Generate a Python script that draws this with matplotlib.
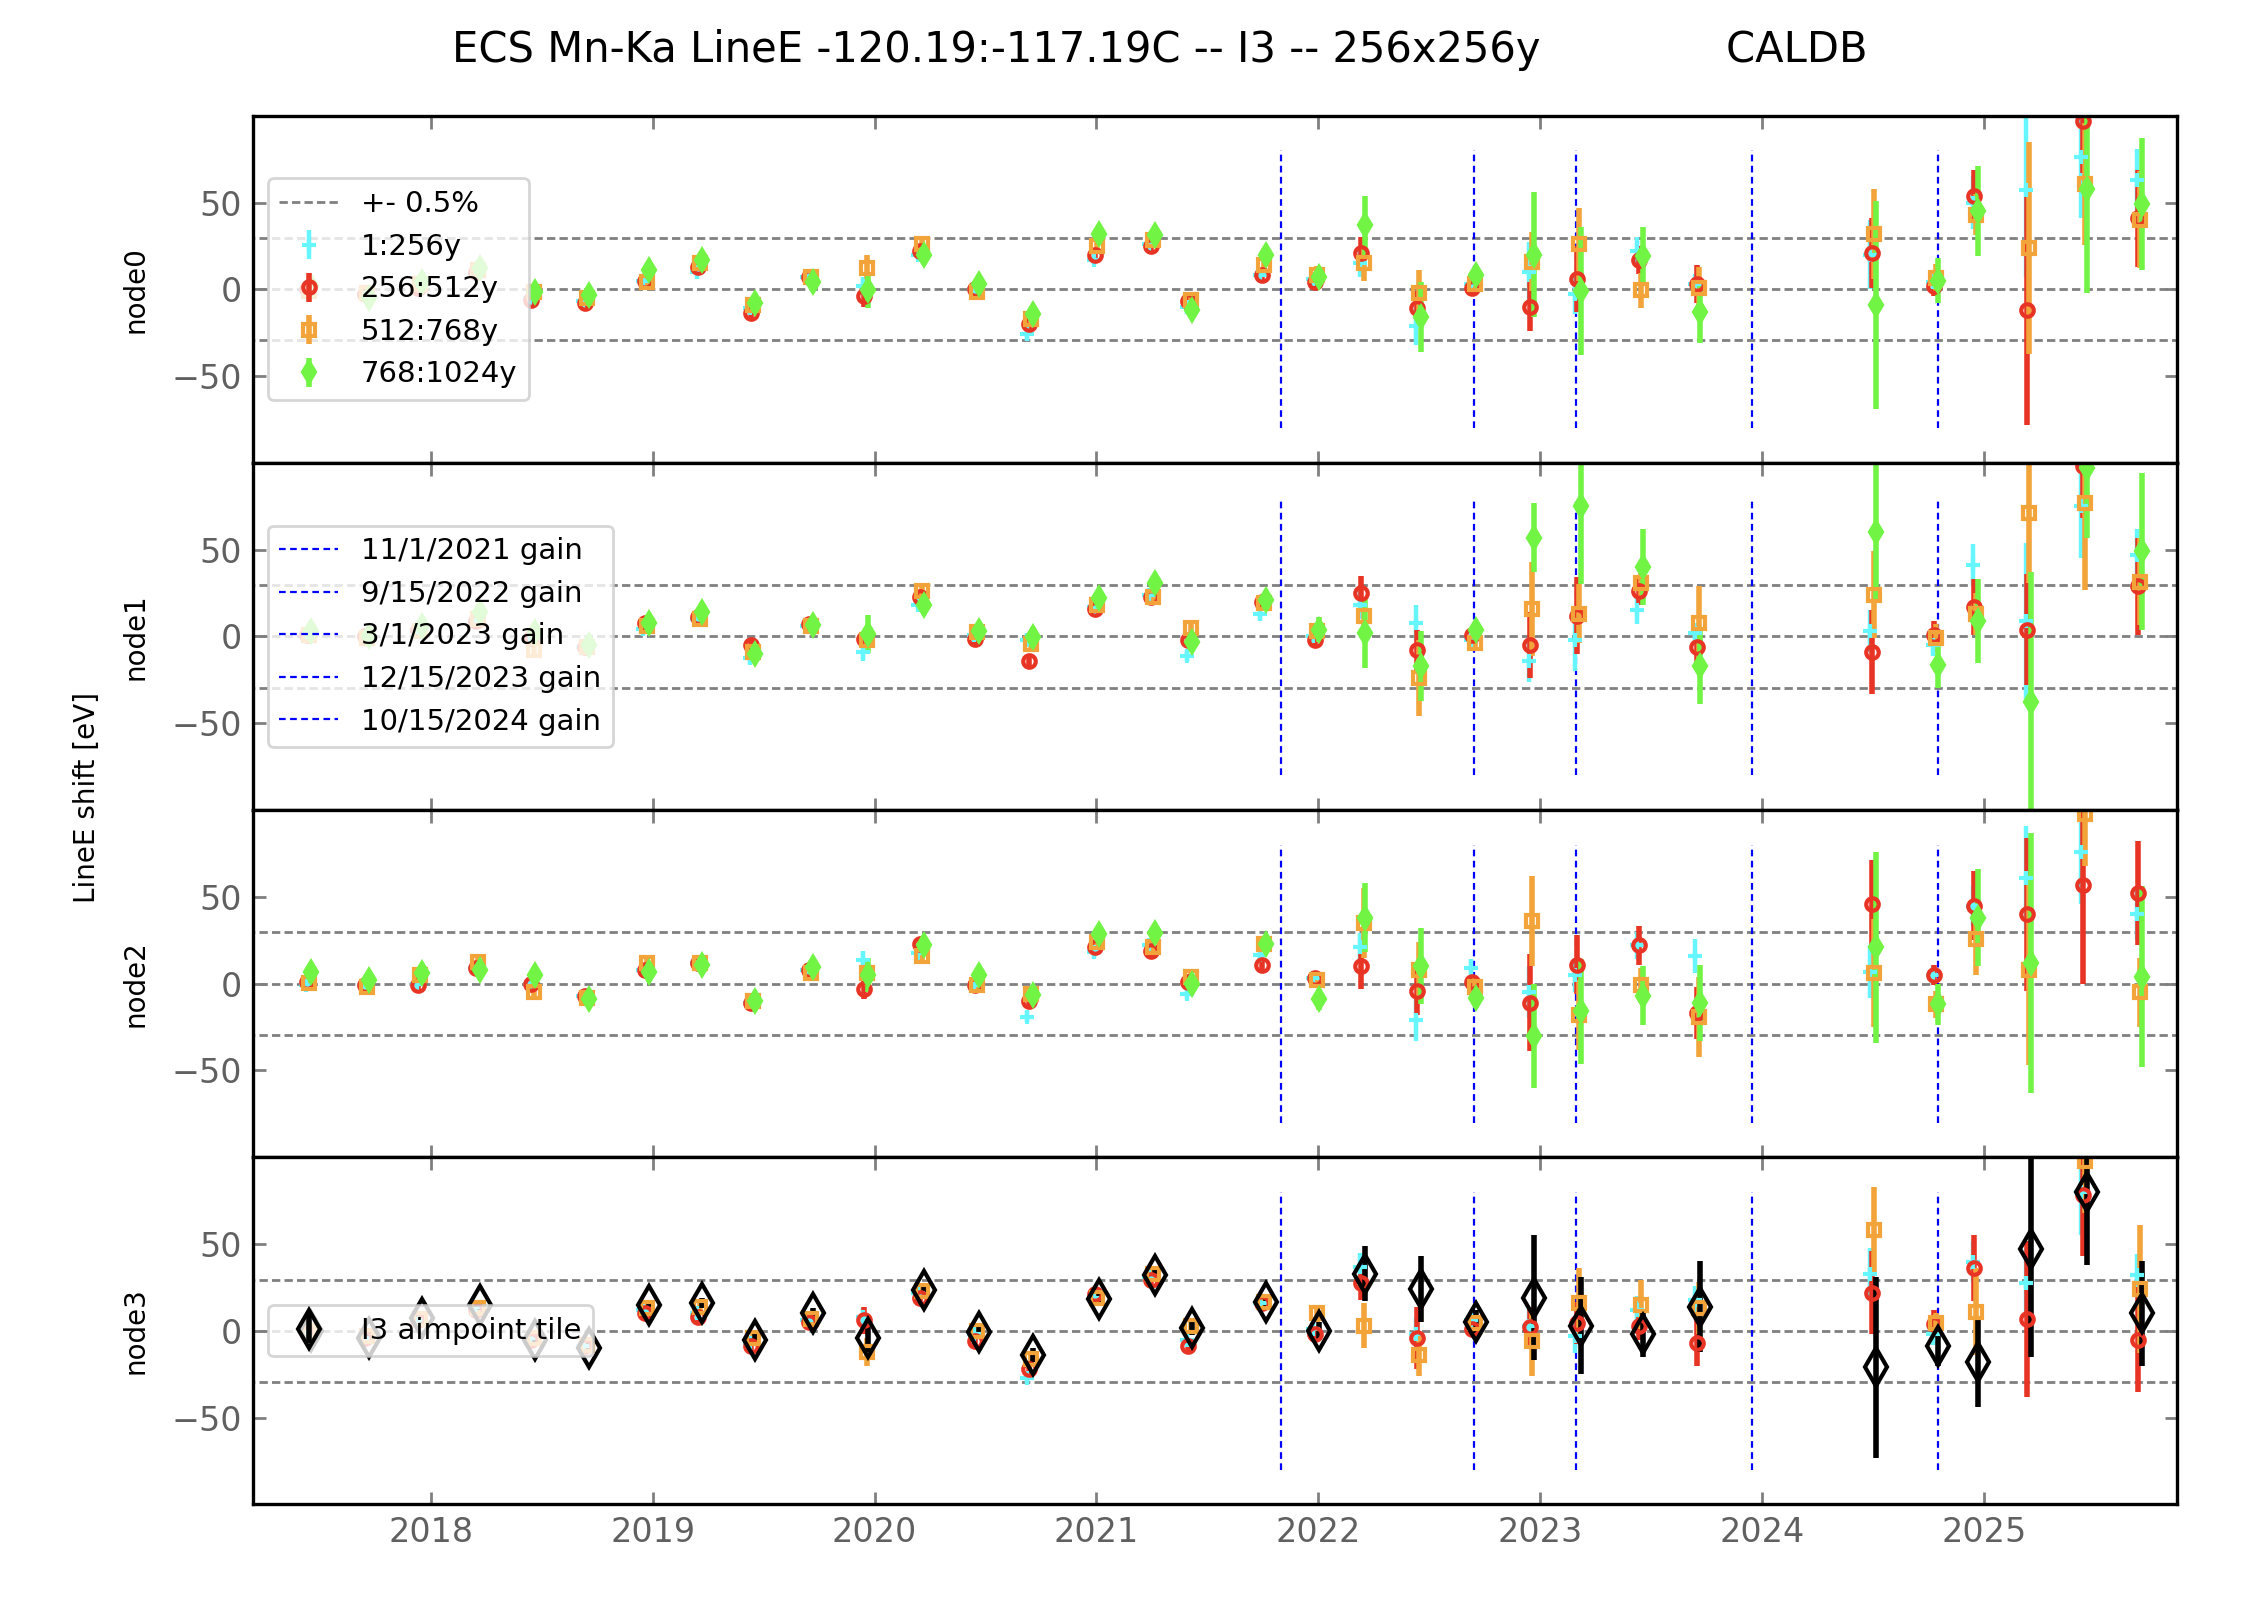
import numpy as np
import matplotlib
matplotlib.use('Agg')
import matplotlib.pyplot as plt

nan = np.nan

# observation dates (decimal year)
dates = [2017.45, 2017.71, 2017.95, 2018.21, 2018.46, 2018.70, 2018.97, 2019.21,
         2019.45, 2019.71, 2019.96, 2020.21, 2020.46, 2020.70, 2021.00, 2021.25,
         2021.42, 2021.75, 2021.99, 2022.20, 2022.45, 2022.70, 2022.96, 2023.17,
         2023.45, 2023.71, 2024.50, 2024.78, 2024.96, 2025.20, 2025.45, 2025.70]

gain_dates = [2021.83, 2022.70, 2023.16, 2023.955, 2024.79]
gain_labels = ['11/1/2021 gain', '9/15/2022 gain', '3/1/2023 gain',
               '12/15/2023 gain', '10/15/2024 gain']

series_labels = ['1:256y', '256:512y', '512:768y', '768:1024y']

# node0
n0_cyan = [0, -3, 2, 9, -5, -7, 5, 10, -11, 7, 2, 20, 0, -26, 17, 26, -10, 8, 6, 15,
           -21, 3, 10, -2.5, 22, 3, 20, 4, 50, 57, 76, 63]
n0_cyan_err = [3, 3, 3, 3, 3, 3, 3, 4, 3, 3, 5, 3, 3, 4, 3, 3, 4, 4, 4, 8, 11, 4, 17, 12,
               8, 6, 20, 6, 15, 50, 35, 18]
n0_red = [0, -2.5, 1, 10, -6, -8, 5, 13, -13.6, 7, -4, 22, 0, -20, 20, 25, -7, 8, 4, 21,
          -11, 1, -10, 6, 17, 3, 21, 2, 54, -12, 97, 41]
n0_red_err = [3, 3, 3, 3, 3, 3, 3, 3, 3, 3, 6, 3, 3, 4, 3, 3, 3, 3, 3, 9, 10, 4, 14, 19,
              8, 11, 20, 6, 15, 66, 30, 28]
n0_orange = [-1, -2, 3, 11, -1.5, -5, 4, 15, -9, 7, 12, 26, -1.5, -17, 25, 28.5, -6.4, 14,
             8.5, 15, -2, 3, 16, 26, -0.5, 1, 32, 6.6, 43, 24, 60.6, 40]
n0_orange_err = [3, 3, 3, 3, 3, 3, 3, 3, 3, 3, 8, 4, 3, 4, 3, 3, 3, 4, 5, 10, 13, 4, 17,
                 21, 10, 12, 26, 8, 12, 61, 35, 28]
n0_green = [2, -5, 4, 12, -1.5, -3.5, 11, 17, -8, 4, -0.5, 20, 3, -14, 32, 31, -12, 20, 7,
            37, -16, 8, 20, -1, 19, -13, -9, 5, 45, nan, 57.7, 49]
n0_green_err = [3, 3, 3, 3, 3, 3, 3, 3, 3, 3, 10, 3, 3, 4, 3, 3, 3, 5, 5, 17, 20, 5, 36,
                37, 17, 18, 60, 13, 26, nan, 60, 38]

# node1
n1_cyan = [1, 0, 3, 9, -1, -6, 4.5, 10, -12.6, 6, -9, 18, 1, -2, 17, 24, -11, 13, 0, 18,
           8, -2, -14, -2, 15, 2, 3, -5, 41, 9, 75, 47]
n1_cyan_err = [3, 3, 3, 3, 3, 3, 3, 3, 3, 3, 5, 3, 3, 4, 3, 3, 3, 4, 4, 8, 10, 4, 12, 18,
               8, 6, 12, 6, 12, 45, 30, 15]
n1_red = [1, 0.5, 3.5, 9, -1, -6, 8, 11, -5, 7, -1.4, 23, -1.4, -14, 16, 23, -2.3, 20, -2,
          25, -8, 1, -5, 12, 26, -6, -9, 1, 17, 4, 98, 29]
n1_red_err = [3, 3, 3, 3, 3, 3, 3, 3, 3, 3, 4, 3, 3, 3, 3, 3, 3, 3, 3, 10, 12, 4, 19, 22,
              8, 12, 24, 8, 16, 32, 30, 28]
n1_orange = [1, -1, 3, 10, -8, -6, 6, 10, -9, 6, -2.3, 26, 2.5, -4.3, 18, 23, 5, 19, 3, 12,
             -24, -4, 16, 13, 31, 8, 24, -1, 13, 71, 77, 31.6]
n1_orange_err = [3, 3, 3, 3, 3, 3, 3, 3, 3, 3, 4, 4, 3, 4, 3, 3, 3, 4, 4, 10, 22, 4, 27,
                 17, 10, 21, 25, 8, 12, 40, 50, 25]
n1_green = [3, 0.5, 6, 14, 2.5, -5, 8, 14, -10, 6.4, 1.5, 18, 3, -0.4, 22, 31, -3.3, 21, 4,
            2, -17, 3.5, 57, 75, 40, -17, 60, -16.5, 9, -38, 97, 49]
n1_green_err = [3, 3, 3, 3, 3, 3, 3, 3, 3, 3, 11, 3, 3, 6, 3, 4, 3, 4, 7, 20, 20, 5, 20,
                45, 22, 22, 40, 13, 24, 75, 40, 45]

# node2
n2_cyan = [-1, -1, 0, 9, 0, -7, 8, 12, -11, 8, 13.6, 17.5, -1, -19, 18, 22, -6, 16.5, 3,
           21, -21, 9, -5, 5, 22, 16, 7, 5, 45, 61, 76, 40]
n2_cyan_err = [3, 3, 3, 3, 3, 3, 3, 3, 3, 3, 5, 3, 3, 3, 3, 3, 3, 4, 4, 8, 12, 5, 15, 10,
               8, 10, 15, 6, 12, 30, 30, 15]
n2_red = [1, -1, -0.6, 9, 0, -7, 8, 12, -11, 8, -3, 23, -0.6, -10, 21, 19, 1, 11, 3, 10,
          -4, 1, -11, 11, 22, -17, 46, 5, 45, 40, 57, 52]
n2_red_err = [3, 3, 3, 3, 3, 3, 3, 3, 3, 3, 6, 3, 3, 3, 3, 3, 3, 3, 3, 13, 14, 4, 28, 17,
              11, 15, 25, 6, 20, 44, 57, 30]
n2_orange = [0.6, -2, 5, 12.6, -5, -8, 11.7, 12, -10, 6.4, 6.4, 16, -1, -6, 24, 21, 4, 23,
             2, 35, 8, -2, 36, -18, -1, -19, 6, -12, 26, 8, 98, -5]
n2_orange_err = [3, 3, 3, 3, 3, 3, 3, 3, 3, 3, 8, 3, 3, 3, 3, 3, 3, 4, 4, 20, 16, 5, 26,
                 20, 10, 23, 31, 8, 21, 55, 30, 20]
n2_green = [6.8, 2, 6, 7.8, 5, -9, 7, 10.7, -10, 9.7, 5, 22, 5, -6.4, 28.5, 29, 0, 23, -9,
            38, 10, -8, -30, -16, -7, -11, 21, -12, 38, 12, nan, 4]
n2_green_err = [3, 3, 3, 3, 3, 3, 3, 3, 3, 3, 10, 3, 3, 3, 3, 3, 3, 4, 6, 20, 22, 6, 30,
                30, 17, 22, 55, 12, 28, 75, nan, 52]

# node3 (768:1024y is the I3 aimpoint tile)
n3_cyan = [0, -4, 6, 14, -4, -9, 12, 10, -7, 6, 8, 22, -2, -27, 19, 31, -5, 16, 1, 37, -2,
           6, 2.5, -3, 12, 18, 33, -2, 39.6, 27.5, 80, 32]
n3_cyan_err = [3, 3, 3, 3, 3, 3, 3, 3, 3, 3, 5, 3, 3, 3, 3, 3, 3, 3, 4, 8, 10, 4, 10, 10,
               8, 8, 15, 6, 12, 20, 25, 12]
n3_red = [-1, -4, 6, 12, -5, -9, 10, 8, -9, 5, 6, 19, -6, -22, 21, 29, -9, 16, -2, 27.5,
          -4, 1, 2, 4.5, 3, -7, 22, 4, 36, 7, 78, -5]
n3_red_err = [3, 3, 3, 3, 3, 3, 3, 3, 3, 3, 8, 3, 3, 3, 3, 3, 3, 3, 3, 10, 18, 4, 12, 12,
              8, 13, 24, 8, 19, 45, 35, 30]
n3_orange = [0, -3, 7, 13, -4, -8, 13, 14, -4, 7, -12, 23, 0, -16, 19, 33, 2.5, 16.6, 10,
             3, -14, 4.5, -6, 16, 15, 13, 58, 4.5, 11, nan, 98, 24]
n3_orange_err = [3, 3, 3, 3, 3, 3, 3, 3, 3, 3, 8, 3, 3, 4, 3, 3, 3, 4, 5, 13, 12, 4, 20,
                 20, 14, 15, 25, 6, 25, nan, 30, 37]
n3_tile = [0, -4, 7.4, 15, -5, -10, 15, 16, -5, 10, -4, 23.5, -0.5, -14, 18.5, 32, 1.5,
           16.5, 0, 33, 24, 5, 19, 3, -2, 14, -21, -9, -18, 47, 79.7, 10]
n3_tile_err = [3, 3, 3, 3, 3, 3, 3, 3, 3, 3, 8, 3, 3, 4, 3, 3, 4, 4, 5, 16, 19, 7, 36, 28,
               13, 26, 52, 11, 26, 62, 42, 30]

nodes = [
    [(n0_cyan, n0_cyan_err), (n0_red, n0_red_err), (n0_orange, n0_orange_err), (n0_green, n0_green_err)],
    [(n1_cyan, n1_cyan_err), (n1_red, n1_red_err), (n1_orange, n1_orange_err), (n1_green, n1_green_err)],
    [(n2_cyan, n2_cyan_err), (n2_red, n2_red_err), (n2_orange, n2_orange_err), (n2_green, n2_green_err)],
    [(n3_cyan, n3_cyan_err), (n3_red, n3_red_err), (n3_orange, n3_orange_err), (n3_tile, n3_tile_err)],
]

# per series style: colour, marker, size, face, x offset, line width
styles = [
    dict(color='#66f6ff', fmt='+', ms=5, mfc='#66f6ff', dx=-0.012, elw=1.6),
    dict(color='#e83424', fmt='o', ms=4.5, mfc='none', dx=-0.006, elw=2.0),
    dict(color='#f2a43a', fmt='s', ms=4.5, mfc='none', dx=0.004, elw=2.0),
    dict(color='#72f444', fmt='d', ms=5, mfc='#72f444', dx=0.012, elw=2.0),
]
tile_style = dict(color='black', fmt='d', ms=9.5, mfc='none', dx=0.012, elw=2.0)

lim05 = 5895 * 0.005

fig, axes = plt.subplots(4, 1, sharex=True, figsize=(11.24, 8.07), dpi=200)
plt.subplots_adjust(left=0.1126, right=0.9685, top=0.9283, bottom=0.0679, hspace=0)

x = np.array(dates)
for i, ax in enumerate(axes):
    lim_line = None
    for yv in [lim05, 0, -lim05]:
        lim_line, = ax.plot([2017.0, 2026.0], [yv, yv], '--', color='gray', lw=1, dashes=(3, 1.5))
    gain_lines = []
    for gd, gl in zip(gain_dates, gain_labels):
        ln, = ax.plot([gd, gd], [-80, 80], '--', color='blue', lw=0.8, dashes=(3, 2), label=gl)
        gain_lines.append(ln)

    conts = []
    for j, (vals, errs) in enumerate(nodes[i]):
        st = styles[j]
        if i == 3 and j == 3:
            st = tile_style
        c = ax.errorbar(x + st['dx'], vals, yerr=errs, fmt=st['fmt'], color=st['color'],
                        ms=st['ms'], mfc=st['mfc'], mec=st['color'], mew=1.5,
                        elinewidth=st['elw'], capsize=0)
        conts.append(c)

    ax.set_ylim(-100, 100)
    ax.set_xlim(2017.2, 2025.87)
    ax.set_yticks([-50, 0, 50])
    ax.set_ylabel('node%d' % i, fontsize=10, labelpad=8)
    ax.tick_params(direction='in', top=True, right=True, length=4.5, width=1,
                   color='gray', labelcolor='#606060', labelsize=12, pad=4)
    for sp in ax.spines.values():
        sp.set_linewidth(1.2)

    if i == 0:
        ax.legend([lim_line] + conts, ['+- 0.5%'] + series_labels, loc='center left',
                  fontsize=10.5)
    elif i == 1:
        ax.legend(gain_lines, gain_labels, loc='center left', fontsize=10.5)
    elif i == 3:
        ax.legend([conts[3]], ['I3 aimpoint tile'], loc='center left', fontsize=10.5)

axes[-1].set_xticks(range(2018, 2026))
axes[-1].set_xticklabels([str(y) for y in range(2018, 2026)])

fig.text(0.0386, 0.506, 'LineE shift [eV]', rotation=90, va='center', ha='center', fontsize=10)
fig.suptitle('ECS Mn-Ka LineE -120.19:-117.19C -- I3 -- 256x256y              CALDB',
             x=0.516, y=0.969, fontsize=15, va='center')

plt.savefig('out.png', dpi=200)
